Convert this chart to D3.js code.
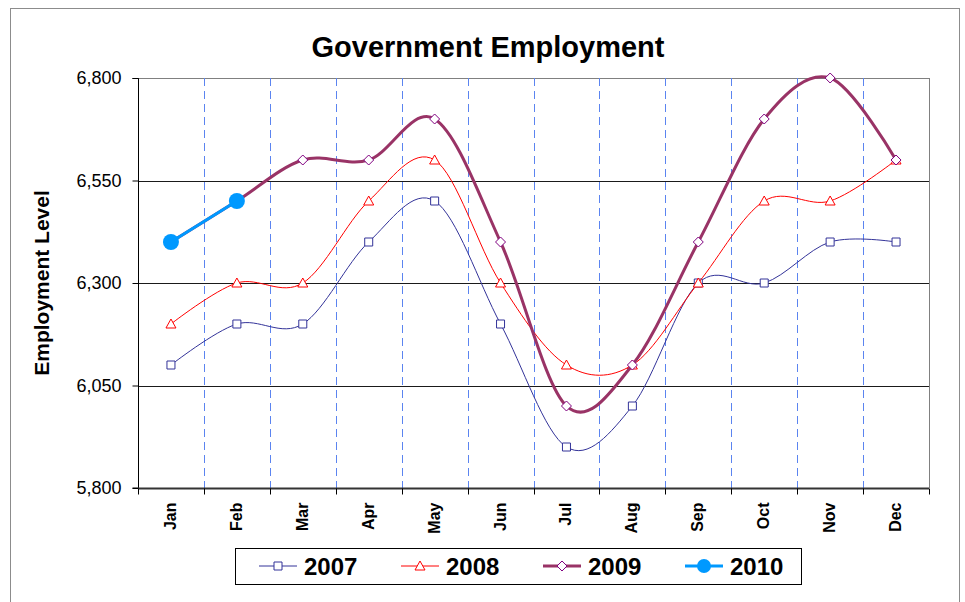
<!DOCTYPE html>
<html>
<head>
<meta charset="utf-8">
<script src="https://cdn.jsdelivr.net/npm/d3@7"></script>
<style>
  body { margin: 0; background: #fff; }
  text { font-family: "Liberation Sans", Arial, sans-serif; }
</style>
</head>
<body>
<div class="canva"></div>
<script>
const months = ["Jan", "Feb", "Mar", "Apr", "May", "Jun", "Jul", "Aug", "Sep", "Oct", "Nov", "Dec"];
const yTicks = [5800, 6050, 6300, 6550, 6800];

const values2007 = [6100, 6200, 6200, 6400, 6500, 6200, 5900, 6000, 6300, 6300, 6400, 6400];
const values2008 = [6200, 6300, 6300, 6500, 6600, 6300, 6100, 6100, 6300, 6500, 6500, 6600];
const values2009 = [6400, 6500, 6600, 6600, 6700, 6400, 6000, 6100, 6400, 6700, 6800, 6600];
const values2010 = [6400, 6500];

const series = [
    {name: "2007", values: values2007, color: "#333399", width: 1, marker: "square"},
    {name: "2008", values: values2008, color: "#ff0000", width: 1, marker: "triangle"},
    {name: "2009", values: values2009, color: "#993366", width: 3, marker: "diamond"},
    {name: "2010", values: values2010, color: "#0099ff", width: 3, marker: "circle"}
];

const svg = d3.select(".canva").append("svg")
    .attr("width", 965)
    .attr("height", 602);

// outer chart border
svg.append("rect")
    .attr("x", 10.5).attr("y", 8.5)
    .attr("width", 949).attr("height", 600)
    .attr("fill", "none")
    .attr("stroke", "#8c8c8c")
    .attr("stroke-width", 1);

const margin = {top: 78, left: 138};
const width = 791;
const height = 410;

const graph = svg.append("g")
    .attr("transform", `translate(${margin.left}, ${margin.top})`);

const xScale = d3.scaleBand()
    .domain(months)
    .range([0, width]);

const yScale = d3.scaleLinear()
    .domain([5800, 6800])
    .range([height, 0]);

const xPos = i => xScale(months[i]) + xScale.bandwidth() / 2;

// plot area right edge
graph.append("line")
    .attr("x1", width + 0.5).attr("x2", width + 0.5)
    .attr("y1", 0).attr("y2", height)
    .attr("stroke", "#808080");

// horizontal gridlines
graph.selectAll(".hgrid")
    .data(yTicks.slice(1))
    .enter()
    .append("line")
    .attr("class", "hgrid")
    .attr("x1", 0).attr("x2", width)
    .attr("y1", d => Math.round(yScale(d)) + 0.5)
    .attr("y2", d => Math.round(yScale(d)) + 0.5)
    .attr("stroke", d => d === 6800 ? "#808080" : "#1a1a1a")
    .attr("stroke-width", 1);

// vertical dashed gridlines between months
graph.selectAll(".vgrid")
    .data(months.slice(1))
    .enter()
    .append("line")
    .attr("class", "vgrid")
    .attr("x1", d => Math.round(xScale(d)) + 0.5)
    .attr("x2", d => Math.round(xScale(d)) + 0.5)
    .attr("y1", 0).attr("y2", height)
    .attr("stroke", "#5b84f0")
    .attr("stroke-width", 1)
    .attr("stroke-dasharray", "8,5");

// axes
const yAxis = d3.axisLeft(yScale)
    .tickValues(yTicks)
    .tickSize(6)
    .tickPadding(11)
    .tickFormat(d3.format(","));

const yAxisG = graph.append("g")
    .attr("transform", "translate(0.5, 0)")
    .call(yAxis);
yAxisG.select(".domain").attr("stroke", "#000").attr("d", `M-6,0.5H0V${height}H-6`);
yAxisG.selectAll("text")
    .style("font-size", "18px")
    .style("font-family", "Liberation Sans, Arial, sans-serif")
    .attr("fill", "#000");

const xAxisG = graph.append("g")
    .attr("transform", `translate(0, ${height + 0.5})`);
xAxisG.append("line")
    .attr("x1", 0).attr("x2", width)
    .attr("stroke", "#333").attr("stroke-width", 2);
xAxisG.selectAll(".xtick")
    .data(months.concat(["end"]))
    .enter()
    .append("line")
    .attr("x1", (d, i) => Math.round(i * xScale.step()) + 0.5)
    .attr("x2", (d, i) => Math.round(i * xScale.step()) + 0.5)
    .attr("y1", 0).attr("y2", 6)
    .attr("stroke", "#000");
xAxisG.selectAll(".xlabel")
    .data(months)
    .enter()
    .append("text")
    .attr("transform", d => `translate(${xScale(d) + xScale.bandwidth() / 2 + 5}, 14) rotate(-90)`)
    .attr("text-anchor", "end")
    .style("font-size", "16px")
    .style("font-weight", "bold")
    .text(d => d);

// title
svg.append("text")
    .attr("x", 488)
    .attr("y", 57)
    .attr("text-anchor", "middle")
    .style("font-size", "29px")
    .style("font-weight", "bold")
    .text("Government Employment");

svg.append("text")
    .attr("transform", "translate(49, 283) rotate(-90)")
    .attr("text-anchor", "middle")
    .style("font-size", "21px")
    .style("font-weight", "bold")
    .text("Employment Level");

// lines
const line = d3.line()
    .x((d, i) => xPos(i))
    .y(d => yScale(d))
    .curve(d3.curveCatmullRom.alpha(0));

const markerPath = (type, x, y) => {
    if (type === "square") return `M${x - 4},${y - 4}h8v8h-8Z`;
    if (type === "triangle") return `M${x},${y - 5}L${x + 5},${y + 4}L${x - 5},${y + 4}Z`;
    if (type === "diamond") return `M${x},${y - 5}L${x + 5},${y}L${x},${y + 5}L${x - 5},${y}Z`;
    return null;
};

series.forEach(s => {
    graph.append("path")
        .datum(s.values)
        .attr("fill", "none")
        .attr("stroke", s.color)
        .attr("stroke-width", s.width)
        .attr("d", s.name === "2010" ? d3.line().x((d, i) => xPos(i)).y(d => yScale(d)) : line);

    if (s.marker === "circle") {
        graph.selectAll(".m" + s.name)
            .data(s.values)
            .enter()
            .append("circle")
            .attr("cx", (d, i) => xPos(i))
            .attr("cy", d => yScale(d))
            .attr("r", 8)
            .attr("fill", s.color);
    } else {
        graph.selectAll(".m" + s.name)
            .data(s.values)
            .enter()
            .append("path")
            .attr("d", (d, i) => markerPath(s.marker, xPos(i), yScale(d)))
            .attr("fill", "#fff")
            .attr("stroke", s.marker === "diamond" ? "#800080" : s.color)
            .attr("stroke-width", 1);
    }
});

// legend
const legend = svg.append("g");
legend.append("rect")
    .attr("x", 235.5).attr("y", 548.5)
    .attr("width", 566).attr("height", 36)
    .attr("fill", "#fff")
    .attr("stroke", "#000");

const legendX = d3.scalePoint()
    .domain(series.map(d => d.name))
    .range([259, 685]);

series.forEach(s => {
    const x0 = legendX(s.name);
    const g = legend.append("g");
    g.append("line")
        .attr("x1", x0).attr("x2", x0 + 38)
        .attr("y1", 566).attr("y2", 566)
        .attr("stroke", s.color)
        .attr("stroke-width", s.width);
    if (s.marker === "circle") {
        g.append("circle")
            .attr("cx", x0 + 19).attr("cy", 566)
            .attr("r", 7)
            .attr("fill", s.color);
    } else {
        g.append("path")
            .attr("d", markerPath(s.marker, x0 + 19, 566))
            .attr("fill", "#fff")
            .attr("stroke", s.marker === "diamond" ? "#800080" : s.color);
    }
    g.append("text")
        .attr("x", x0 + 45)
        .attr("y", 575)
        .style("font-size", "24px")
        .style("font-weight", "bold")
        .text(s.name);
});
</script>
</body>
</html>
